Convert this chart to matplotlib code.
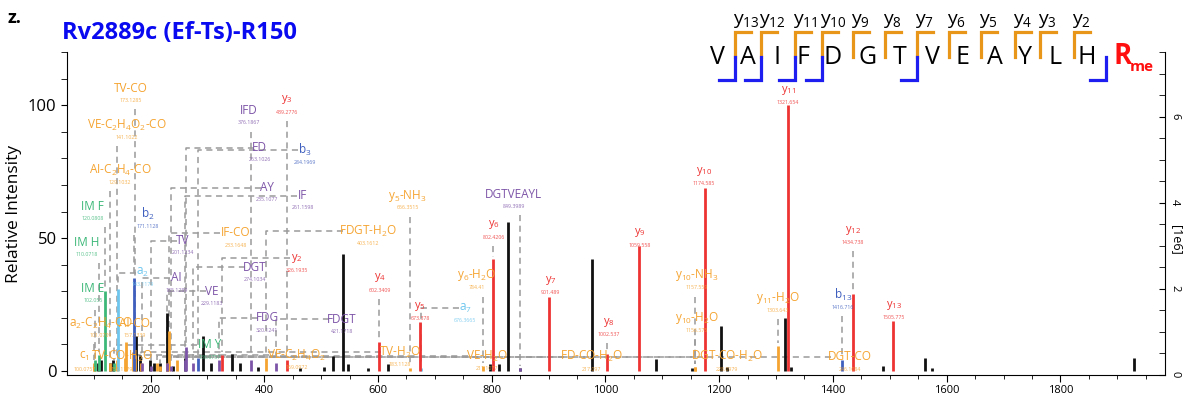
import matplotlib
matplotlib.use("Agg")
import matplotlib.pyplot as plt
from matplotlib.lines import Line2D
from matplotlib.ticker import MultipleLocator, FixedLocator
import numpy as np

plt.rcParams['font.family'] = ['Open Sans', 'DejaVu Sans']
plt.rcParams['mathtext.default'] = 'regular'

# ---- peaks, grouped by ion type ----
y_mz = [326.19, 439.28, 602.34, 673.38, 802.42, 901.49, 1002.54, 1059.56,
        1174.59, 1321.65, 1434.74, 1505.78]
y_int = [6, 4, 11, 18.5, 42, 28, 6.5, 47, 69, 100, 29, 19]

b_mz = [171.11, 284.20, 1416.72]
b_int = [35, 5, 4]

a_mz = [143.12, 676.37]
a_int = [31, 1]

imm_mz = [102.06, 110.07, 120.08, 136.08]
imm_int = [4, 6, 30, 3]

int_mz = [185.13, 201.12, 229.12, 235.11, 261.16, 263.10, 274.10, 320.12,
          376.19, 421.17, 849.40]
int_int = [3, 2, 3, 2, 4, 9, 3, 4, 4, 3, 1]

loss_mz = [100.08, 101.07, 129.10, 141.10, 155.12, 157.13, 169.10, 173.13,
           183.11, 211.11, 217.10, 228.10, 233.16, 246.11, 403.16, 656.35,
           784.41, 1156.58, 1157.56, 1303.64]
loss_int = [2, 3, 3, 4, 5, 11, 7, 6, 3, 3, 2, 3, 15, 4, 5, 1, 2, 1.5, 1.5, 9.5]

other_mz = [108, 112, 128, 134, 175, 181, 199, 206, 216, 229, 240, 260, 292,
            307, 343, 357, 389, 462, 505, 521, 538, 547, 582, 617, 797, 812,
            829, 850, 976, 1089, 1152, 1203, 1214, 1316, 1326, 1488, 1562,
            1574, 1930]
other_int = [3, 4, 3, 4, 13, 6, 4, 3, 3, 22, 2, 5, 13, 3, 6.5, 3, 1.5, 1,
             1.5, 5.5, 44, 2.5, 1, 2.5, 2.5, 2.5, 56, 1, 42, 4.5, 1, 17, 1.5,
             20, 1.5, 2, 5, 1, 5]

# ---- annotations: name, m/z text, ion type, annotated m/z, label x, label y ----
labels = [
    ('TV-CO', '173.1285', 'loss', 173.13, 165, 106.4),
    ('VE-C$_2$H$_4$O$_2$-CO', '141.1022', 'loss', 141.10, 158, 92.5),
    ('AI-C$_2$H$_4$-CO', '129.1032', 'loss', 129.10, 146, 75.6),
    ('IM F', '120.0808', 'imm', 120.08, 98.5, 62),
    ('IM H', '110.0718', 'imm', 110.07, 88, 48.5),
    ('b$_2$', '171.1128', 'b', 171.11, 195, 59),
    ('IFD', '376.1867', 'int', 376.19, 373, 98),
    ('y$_3$', '439.2776', 'y', 439.28, 440, 102),
    ('ED', '263.1026', 'int', 263.10, 392, 84),
    ('b$_3$', '284.1969', 'b', 284.20, 471, 83),
    ('AY', '235.1077', 'int', 235.11, 405, 69),
    ('IF', '261.1598', 'int', 261.16, 468, 66),
    ('TV', '201.1234', 'int', 201.12, 257, 49),
    ('IF-CO', '233.1648', 'loss', 233.16, 350, 52),
    ('y$_2$', '326.1935', 'y', 326.19, 457, 42.5),
    ('a$_2$', '143.1179', 'a', 143.12, 186, 37),
    ('AI', '185.1289', 'int', 185.13, 246, 35),
    ('IM E', '102.055', 'imm', 102.06, 98.5, 31),
    ('VE', '229.1183', 'int', 229.12, 308, 30),
    ('DGT', '274.1034', 'int', 274.10, 383, 39),
    ('FDG', '320.1241', 'int', 320.12, 405, 20),
    ('a$_2$-C$_2$H$_4$-CO', '101.0709', 'loss', 101.07, 112, 18),
    ('AI-CO', '157.1339', 'loss', 157.13, 172, 18),
    ('c$_1$', '100.0757', 'loss', 100.08, 84, 5.3),
    ('TV-CO-H$_2$O', '155.1179', 'loss', 155.12, 150, 5.3),
    ('IM Y', '136.0757', 'imm', 136.08, 304, 9.8),
    ('VE-C$_2$H$_4$O$_2$', '169.0972', 'loss', 169.10, 457, 6),
    ('FDGT', '421.1718', 'int', 421.17, 536, 19.5),
    ('FDGT-H$_2$O', '403.1612', 'loss', 403.16, 582, 52.6),
    ('y$_5$-NH$_3$', '656.3515', 'loss', 656.35, 652, 66),
    ('DGTVEAYL', '849.3989', 'int', 849.40, 839, 66.5),
    ('y$_6$', '802.4206', 'y', 802.42, 804, 55),
    ('y$_6$-H$_2$O', '784.41', 'loss', 784.41, 774, 36),
    ('y$_4$', '602.3409', 'y', 602.34, 603, 35),
    ('y$_5$', '673.378', 'y', 673.38, 674, 24.4),
    ('a$_7$', '676.3665', 'a', 676.37, 753, 23.7),
    ('TV-H$_2$O', '183.1128', 'loss', 183.11, 638.5, 7.1),
    ('VE-H$_2$O', '211.1077', 'loss', 211.11, 791.5, 5.6),
    ('FD-CO-H$_2$O', '217.097', 'loss', 217.10, 976, 5.3),
    ('y$_7$', '901.489', 'y', 901.49, 904, 34),
    ('y$_8$', '1002.537', 'y', 1002.54, 1006, 18.4),
    ('y$_9$', '1059.558', 'y', 1059.56, 1061, 52),
    ('y$_{10}$', '1174.585', 'y', 1174.59, 1173, 75),
    ('y$_{11}$', '1321.654', 'y', 1321.65, 1321, 105.6),
    ('y$_{10}$-NH$_3$', '1157.559', 'loss', 1157.56, 1161, 36),
    ('y$_{10}$-H$_2$O', '1156.575', 'loss', 1156.58, 1161, 20),
    ('DGT-CO-H$_2$O', '228.0979', 'loss', 228.10, 1214, 5.3),
    ('y$_{11}$-H$_2$O', '1303.643', 'loss', 1303.64, 1303, 27.4),
    ('b$_{13}$', '1416.716', 'b', 1416.72, 1418, 28.6),
    ('y$_{12}$', '1434.738', 'y', 1434.74, 1435, 53),
    ('y$_{13}$', '1505.775', 'y', 1505.78, 1507, 24.8),
    ('DGT-CO', '246.1084', 'loss', 246.11, 1430, 5.3),
]

sequence = list("VAIFDGTVEAYLH")

colors = {'y': '#EE3333', 'b': '#3F5FBF', 'a': '#6EC6EE', 'imm': '#3CB878',
          'int': '#7D55A8', 'loss': '#F5A431', 'other': '#111111'}
series = {'y': (y_mz, y_int), 'b': (b_mz, b_int), 'a': (a_mz, a_int),
          'imm': (imm_mz, imm_int), 'int': (int_mz, int_int),
          'loss': (loss_mz, loss_int)}

W, H = 1195, 400


def fx(px):
    return px / W


def fy(py):
    return 1 - py / H


def peak_height(kind, mz):
    xs, hs = series[kind]
    i = int(np.argmin(np.abs(np.array(xs) - mz)))
    return hs[i]


def visible_len(s):
    return len(s.replace('$', '').replace('_', '').replace('{', '').replace('}', ''))


fig = plt.figure(figsize=(W / 100, H / 100), dpi=100)
ax = fig.add_axes([fx(67), fy(375), fx(1165) - fx(67), fy(52) - fy(375)])

# peaks
ax.vlines(other_mz, 0, other_int, color=colors['other'], lw=2.0, zorder=3)
for kind in ['loss', 'int', 'imm', 'a', 'b', 'y']:
    xs, hs = series[kind]
    ax.vlines(xs, 0, hs, color=colors[kind], lw=2.0, zorder=3)

# labels + dashed leaders
dash = dict(color='#9a9a9a', lw=1.1, ls=(0, (4, 3)), zorder=1)
for name, val, kind, pmz, lx, ly in labels:
    ph = peak_height(kind, pmz)
    fs = 8 if name.startswith('y$') and '-' not in name else 8.5
    ax.text(lx, ly, name, ha='center', va='center', fontsize=fs,
            color=colors[kind], zorder=4)
    ax.text(lx, ly - 4.6, val, ha='center', va='center', fontsize=3.8,
            color=colors[kind], alpha=0.85, zorder=4)
    if abs(lx - pmz) < 25:
        top = ly - 8
        if top > ph + 1:
            ax.plot([pmz, pmz], [top, ph + 1], **dash)
    else:
        half = visible_len(name) * 5.5
        start = lx - half if pmz < lx else lx + half
        bottom = min(ly, ph + 1)
        ax.plot([start, pmz, pmz], [ly, ly, bottom], **dash)

ax.set_xlim(53, 1984)
ax.set_ylim(-1.5, 120)
ax.xaxis.set_major_locator(MultipleLocator(200))
ax.xaxis.set_minor_locator(MultipleLocator(50))
ax.yaxis.set_major_locator(FixedLocator([0, 50, 100]))
ax.yaxis.set_minor_locator(MultipleLocator(10))
ax.tick_params(axis='x', which='major', length=5, labelsize=8, pad=2)
ax.tick_params(axis='x', which='minor', length=3)
ax.tick_params(axis='y', which='both', length=4, labelsize=12)
ax.spines['top'].set_visible(False)
ax.spines['right'].set_visible(False)
ax.set_ylabel('Relative Intensity', fontsize=12.5, labelpad=4)

ax2 = ax.twinx()
ax2.set_ylim(0, 7.5e6)
ax2.yaxis.set_major_locator(FixedLocator([0, 2e6, 4e6, 6e6]))
ax2.yaxis.set_minor_locator(MultipleLocator(0.5e6))
ax2.set_yticklabels(['0', '2', '4', '6'])
ax2.tick_params(axis='y', which='both', direction='in', length=4,
                labelsize=8, labelrotation=-90, pad=3)
for s in ['top', 'left', 'bottom']:
    ax2.spines[s].set_visible(False)
fig.text(fx(1176), fy(240), '[1e6]', rotation=-90, fontsize=9,
         ha='center', va='center')

# titles
fig.text(fx(8), fy(18), 'z.', fontsize=13, fontweight='bold', ha='left',
         va='center')
fig.text(fx(62), fy(33), 'Rv2889c (Ef-Ts)-R150', fontsize=17,
         fontweight='bold', color='#0A0AF0', ha='left', va='center')

# peptide sequence with fragment brackets
seq_x = [717, 748, 777, 803, 833, 868, 900, 932, 963, 995, 1025, 1055, 1087]
y_cut_x = [735, 761, 795, 822, 853, 885, 917, 949, 981, 1015, 1040, 1074]
b_cut_x = [735, 761, 795, 822, 917, 1106]
orange = '#E8961A'
blue = '#1E1EF0'

for aa, x in zip(sequence, seq_x):
    fig.text(fx(x), fy(57), aa, fontsize=18, ha='center', va='center')
fig.text(fx(1114), fy(56), 'R', fontsize=20, fontweight='bold',
         color='#FF1010', ha='left', va='center')
fig.text(fx(1130), fy(67), 'me', fontsize=11, fontweight='bold',
         color='#FF1010', ha='left', va='center')

for n, x in zip(range(13, 1, -1), y_cut_x):
    fig.add_artist(Line2D([fx(x), fx(x), fx(x + 16)], [fy(57), fy(32), fy(32)],
                          transform=fig.transFigure, color=orange, lw=2.3,
                          solid_joinstyle='miter'))
    fig.text(fx(x - 2), fy(24), '$y_{%d}$' % n, fontsize=14, ha='left',
             va='baseline')

for x in b_cut_x:
    fig.add_artist(Line2D([fx(x), fx(x), fx(x - 16)], [fy(57), fy(80), fy(80)],
                          transform=fig.transFigure, color=blue, lw=2.3,
                          solid_joinstyle='miter'))

fig.savefig('out.png', dpi=100)
